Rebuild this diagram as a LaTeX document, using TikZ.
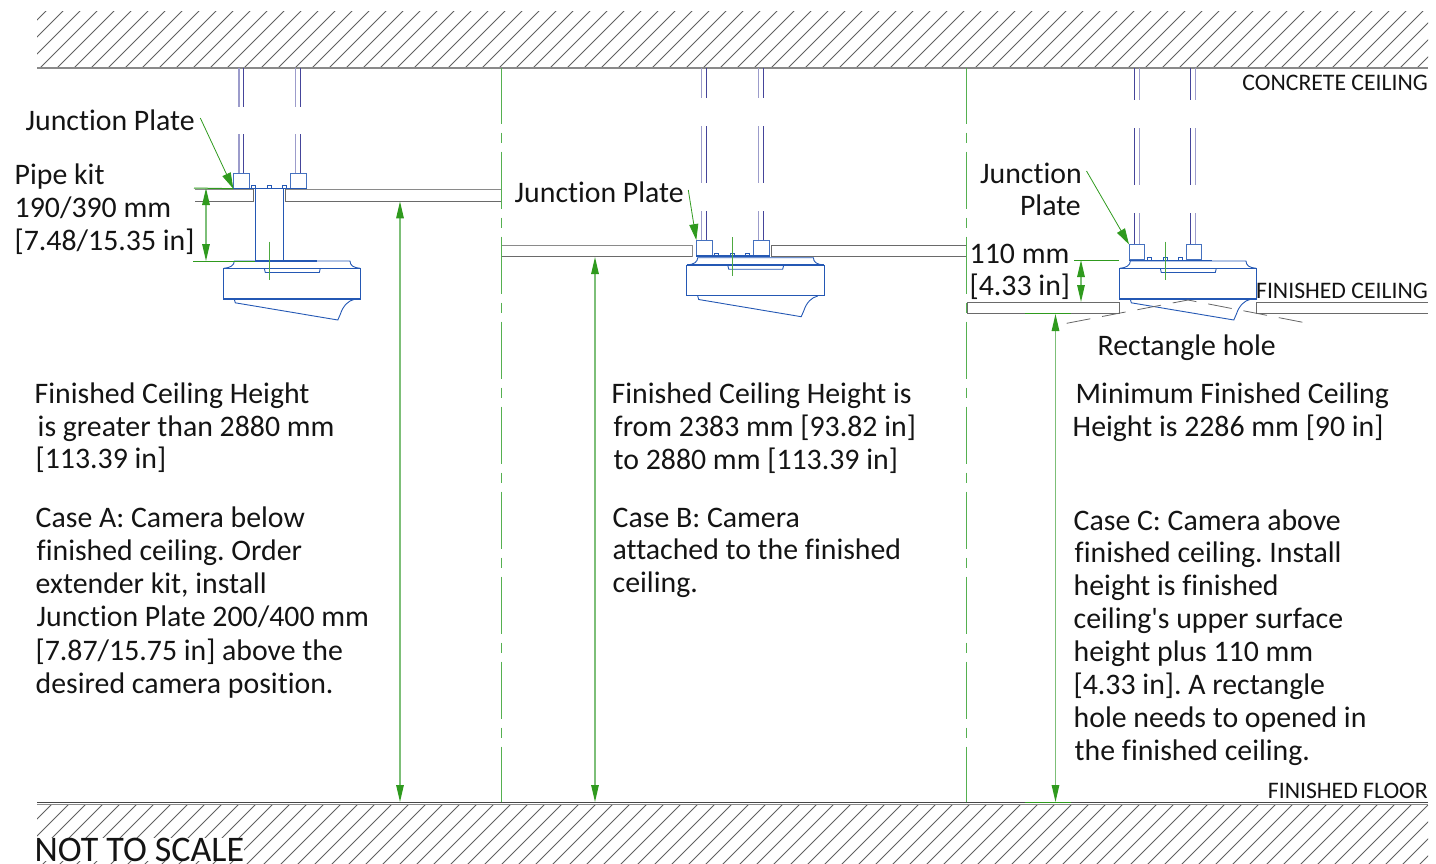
\documentclass[tikz,border=0pt]{standalone}
\usepackage{fontspec}
\setmainfont{Carlito}[Ligatures={CommonOff,TeXOff}]
\usetikzlibrary{arrows.meta}
\definecolor{camblue}{HTML}{2458B4}
\definecolor{pipedark}{HTML}{45459A}
\definecolor{pipelight}{HTML}{9C9CCB}
\definecolor{gshaft}{HTML}{7DBF78}
\definecolor{gdark}{HTML}{2F9A1E}
\definecolor{gdiv}{HTML}{55B050}
\definecolor{wallgray}{HTML}{8A8A8A}
\definecolor{ceil}{HTML}{6A6A6A}
\tikzset{
  txt/.style={anchor=base west,inner sep=0pt,yshift=-1pt,xshift=-0.5pt,font=\fontsize{29.8}{33}\selectfont\frenchspacing,text=black!92},
  txtr/.style={anchor=base east,inner sep=0pt,yshift=-1pt,font=\fontsize{29.8}{33}\selectfont\frenchspacing,text=black!92},
  small/.style={anchor=base east,inner sep=0pt,font=\fontsize{23.7}{26}\selectfont,text=black!92},
  hatchline/.style={draw=black!62,line width=0.8pt},
  ceilline/.style={draw=ceil,line width=1pt},
  wall/.style={draw=wallgray,line width=1.3pt},
  divider/.style={draw=gdiv,line width=1.2pt,dash pattern=on 57pt off 9pt on 10pt off 9pt,dash phase=1.3pt},
  dimline/.style={draw=gshaft,line width=1.3pt,{Triangle[length=17pt,width=7.5pt,color=gdark]}-{Triangle[length=17pt,width=7.5pt,color=gdark]}},
  ext/.style={draw=gdark,line width=1pt},
  leader/.style={draw=gdark,line width=0.8pt,-{Triangle[length=16pt,width=9pt,color=gdark]}},
  centre/.style={draw=gdark!85,line width=0.9pt},
  plate/.style={draw=camblue!85,fill=white,line width=0.9pt,inner sep=0pt,minimum width=15.4pt,minimum height=15pt,anchor=south west},
  pipeA/.style={draw=pipedark,line width=0.9pt},
  pipeB/.style={draw=pipelight,line width=1.1pt},
  breakline/.style={draw=black!60,line width=0.8pt,dash pattern=on 24pt off 12pt},
  cam/.style={draw=camblue,line width=0.9pt},
  camthick/.style={draw=camblue,line width=1.8pt},
  camera/.pic={
    \draw[cam,fill=white] (0,0) -- (137.3,0) -- (137.3,30.5) -- (0,30.5) -- cycle;
    \draw[cam] (0.5,0) .. controls (7,-0.5) and (11,-3) .. (11,-7.3) -- (126.7,-7.3) .. controls (126.7,-3) and (130,-0.5) .. (137,0);
    \draw[cam] (41,0) -- (42,4.2) -- (96,4.2) -- (97,0);
    \draw[camthick] (0,0.2) -- (137.3,0.2);
    \draw[camthick] (0,30.5) -- (137.3,30.5);
    \draw[cam] (11,31) -- (12,34.5) -- (114.5,51.7) -- (117,46) .. controls (120,37) and (125,32.5) .. (131,31);
  },
  bolts/.pic={
    \foreach \bx in {-16,0,15} \draw[cam,line width=0.7pt] (\bx-2,0) rectangle (\bx+2,-3);
  }
}
\begin{document}
\begin{tikzpicture}[x=1pt,y=-1pt]
\useasboundingbox (0,0) rectangle (1436,863);
% hatching
\begin{scope}
\clip (37,11) rectangle (1428,68);
\foreach \k in {0,...,86} \draw[hatchline] ({57+17*\k-80},80) -- ({57+17*\k},0);
\end{scope}
\begin{scope}
\clip (37,805) rectangle (1428,863);
\foreach \k in {0,...,90} \draw[hatchline] ({855+17*(\k-50)-70},870) -- ({855+17*(\k-50)-70+80},790);
\end{scope}
\coordinate (wallTL) at (37,68); \coordinate (wallTR) at (1428,68);
\draw[wall] (wallTL) -- (wallTR);
\coordinate (floorL) at (37,802.3); \coordinate (floorR) at (1428,802.3);
\coordinate (floorL2) at (37,804.3); \coordinate (floorR2) at (1428,804.3);
\draw[draw=black!72,line width=1pt] (floorL) -- (floorR);
\draw[wall] (floorL2) -- (floorR2);
% ceilings
\draw[wall,line width=1pt] (195,189.3) -- (253.3,189.3);
\draw[ceilline] (195,201.3) -- (253.3,201.3) -- (253.3,189.3);
\draw[wall,line width=1pt] (285.7,189.3) -- (501.7,189.3);
\draw[ceilline] (285.7,189.3) -- (285.7,201.3) -- (501.7,201.3);
\draw[wall,line width=1pt] (501.7,245.3) -- (692.3,245.3) -- (692.3,256.7);
\draw[ceilline] (501.7,256.7) -- (692.3,256.7);
\draw[ceilline] (966.7,245.3) -- (771.7,245.3) -- (771.7,256.7);
\draw[ceilline] (771.7,256.7) -- (966.7,256.7);
\draw[ceilline] (967,302.3) -- (1119.3,302.3) -- (1119.3,313.7) -- (967,313.7) -- cycle;
\draw[ceilline] (1428,302.3) -- (1256.3,302.3) -- (1256.3,313.7) -- (1428,313.7);
% dividers
\coordinate (divAt) at (501.7,68); \coordinate (divAb) at (501.7,802);
\coordinate (divBt) at (966.7,68); \coordinate (divBb) at (966.7,802);
\draw[divider] (divAt) -- (divAb);
\draw[divider] (divBt) -- (divBb);
% pipes
\foreach \px/\ya/\yb/\yc in {239/106.7/134.3/173.3, 295.7/106.7/134.3/173.3}{
  \draw[pipeB] (\px,68) -- (\px,\ya) (\px,\yb) -- (\px,\yc);
  \draw[pipeA] (\px+4.3,68) -- (\px+4.3,\ya) (\px+4.3,\yb) -- (\px+4.3,\yc);
}
\foreach \px in {701.5,758.3}{
  \draw[pipeB] (\px,68) -- (\px,98.3) (\px,126) -- (\px,183.3) (\px,211) -- (\px,241.3);
  \draw[pipeA] (\px+5,68) -- (\px+5,98.3) (\px+5,126) -- (\px+5,183.3) (\px+5,211) -- (\px+5,241.3);
}
\foreach \px in {1134.3,1190.7}{
  \draw[pipeA] (\px,68) -- (\px,100) (\px,128) -- (\px,185.3) (\px,213.3) -- (\px,245.7);
  \draw[pipeB] (\px+5,68) -- (\px+5,100) (\px+5,128) -- (\px+5,185.3) (\px+5,213.3) -- (\px+5,245.7);
}
% cameras
\pic at (223.3,268.3) {camera};
\pic at (686.7,265) {camera};
\pic at (1119.3,268.3) {camera};
% neck of case A
\draw[cam] (255.3,188) -- (255.3,261);
\draw[cam] (283.3,188) -- (283.3,261);
\draw[camthick] (255.3,261) -- (316.5,261);
% plates
\node[plate] (boxA1) at (233.3,188.7) {};
\node[plate] (boxA2) at (290.3,188.7) {};
\node[plate] (boxB1) at (696.3,256) {};
\node[plate] (boxB2) at (753.3,256) {};
\node[plate] (boxC1) at (1129,260.3) {};
\node[plate] (boxC2) at (1185.7,260.3) {};
\draw[camthick,line width=1.3pt] (boxA1.south west) -- (boxA2.south east);
\draw[camthick,line width=1.5pt] (boxB1.south west) -- (boxB2.south east);
\draw[camthick,line width=1.5pt] (boxC1.south west) -- (1212,260.3);
\pic at (269,188) {bolts};
\pic at (732.3,256) {bolts};
\pic at (1165,260) {bolts};
% centre marks
\draw[centre] (269.3,241.7) -- (269.3,280);
\draw[centre] (732.3,237) -- (732.3,275.7);
\draw[centre] (1165,241.7) -- (1165,280);
% break line
\draw[breakline] (1066.7,323.3) -- (1188,300) -- (1308,323.3);
% extension lines
\draw[ext] (194,188) -- (boxA1.south west);
\draw[ext] (193,261) -- (255.3,261);
\draw[ext] (1074,260) -- (1119,260);
\draw[ext] (1025,313.7) -- (1071,313.7);
\draw[ext] (1025,802.3) -- (1071,802.3);
% dimensions
\coordinate (hA1) at (400,201.3); \coordinate (hA2) at (400,802);
\coordinate (hB1) at (595,257); \coordinate (hB2) at (595,802);
\coordinate (hC1) at (1055.5,314); \coordinate (hC2) at (1055.5,802);
\coordinate (dA1) at (206,188); \coordinate (dA2) at (206,261);
\coordinate (dC1) at (1081,260); \coordinate (dC2) at (1081,302);
\draw[dimline] (hA1) -- (hA2);
\draw[dimline] (hB1) -- (hB2);
\draw[dimline] (hC1) -- (hC2);
\draw[dimline] (dA1) -- (dA2);
\draw[dimline] (dC1) -- (dC2);
% labels
\node[small] (lConc) at (1428,90) {CONCRETE CEILING};
\node[small] (lFinC) at (1428,298) {FINISHED CEILING};
\node[small] (lFinF) at (1428,798) {FINISHED FLOOR};
\node[txt,fill=white,inner sep=0pt,font=\fontsize{36}{38}\selectfont,text depth=0pt] (lNTS) at (35,860) {NOT TO SCALE};
\node[txt] (jpA) at (26,129) {Junction Plate};
\node[txt] (pk1) at (15,183) {Pipe kit};
\node[txt] (pk2) at (15,216) {190/390 mm};
\node[txt] (pk3) at (15,249) {[7.48/15.35 in]};
\node[txt] (jpB) at (515,201) {Junction Plate};
\node[txtr] (jpC1) at (1082,182) {Junction};
\node[txtr] (jpC2) at (1081,214) {Plate};
\node[txt] (hC3) at (970,262) {110 mm};
\node[txt] (hC4) at (970,294) {[4.33 in]};
\node[txt] (rect) at (1098,354) {Rectangle hole};
\coordinate (jlA) at (200.3,118); \coordinate (jlB) at (688.3,190); \coordinate (jlC) at (1086.5,171);
\draw[leader] (jlA) -- (boxA1.south west);
\draw[leader] (jlB) -- (boxB1.north west);
\draw[leader] (jlC) -- (boxC1.north west);
% case A
\node[txt] (a1) at (35,402) {Finished Ceiling Height};
\node[txt] (a2) at (38,435) {is greater than 2880 mm};
\node[txt] (a3) at (36,467) {[113.39 in]};
\node[txt] (a4) at (36,526) {Case A: Camera below};
\node[txt] (a5) at (37,559) {finished ceiling. Order};
\node[txt] (a6) at (36,592) {extender kit, install};
\node[txt] (a7) at (37,625) {Junction Plate 200/400 mm};
\node[txt] (a8) at (36,659) {[7.87/15.75 in] above the};
\node[txt] (a9) at (36,692) {desired camera position.};
% case B
\node[txt] (b1) at (612,402) {Finished Ceiling Height is};
\node[txt] (b2) at (614,435) {from 2383 mm [93.82 in]};
\node[txt] (b3) at (614,468) {to 2880 mm [113.39 in]};
\node[txt] (b4) at (613,526) {Case B: Camera};
\node[txt] (b5) at (613,558) {attached to the finished};
\node[txt] (b6) at (613,591) {ceiling.};
% case C
\node[txt] (c1) at (1076,402) {Minimum Finished Ceiling};
\node[txt] (c2) at (1073,435) {Height is 2286 mm [90 in]};
\node[txt] (c3) at (1074,529) {Case C: Camera above};
\node[txt] (c4) at (1075,561) {finished ceiling. Install};
\node[txt] (c5) at (1074,594) {height is finished};
\node[txt] (c6) at (1074,627) {ceiling's upper surface};
\node[txt] (c7) at (1074,660) {height plus 110 mm};
\node[txt] (c8) at (1074,693) {[4.33 in]. A rectangle};
\node[txt] (c9) at (1074,726) {hole needs to opened in};
\node[txt] (c10) at (1075,759) {the finished ceiling.};
\end{tikzpicture}
\end{document}
